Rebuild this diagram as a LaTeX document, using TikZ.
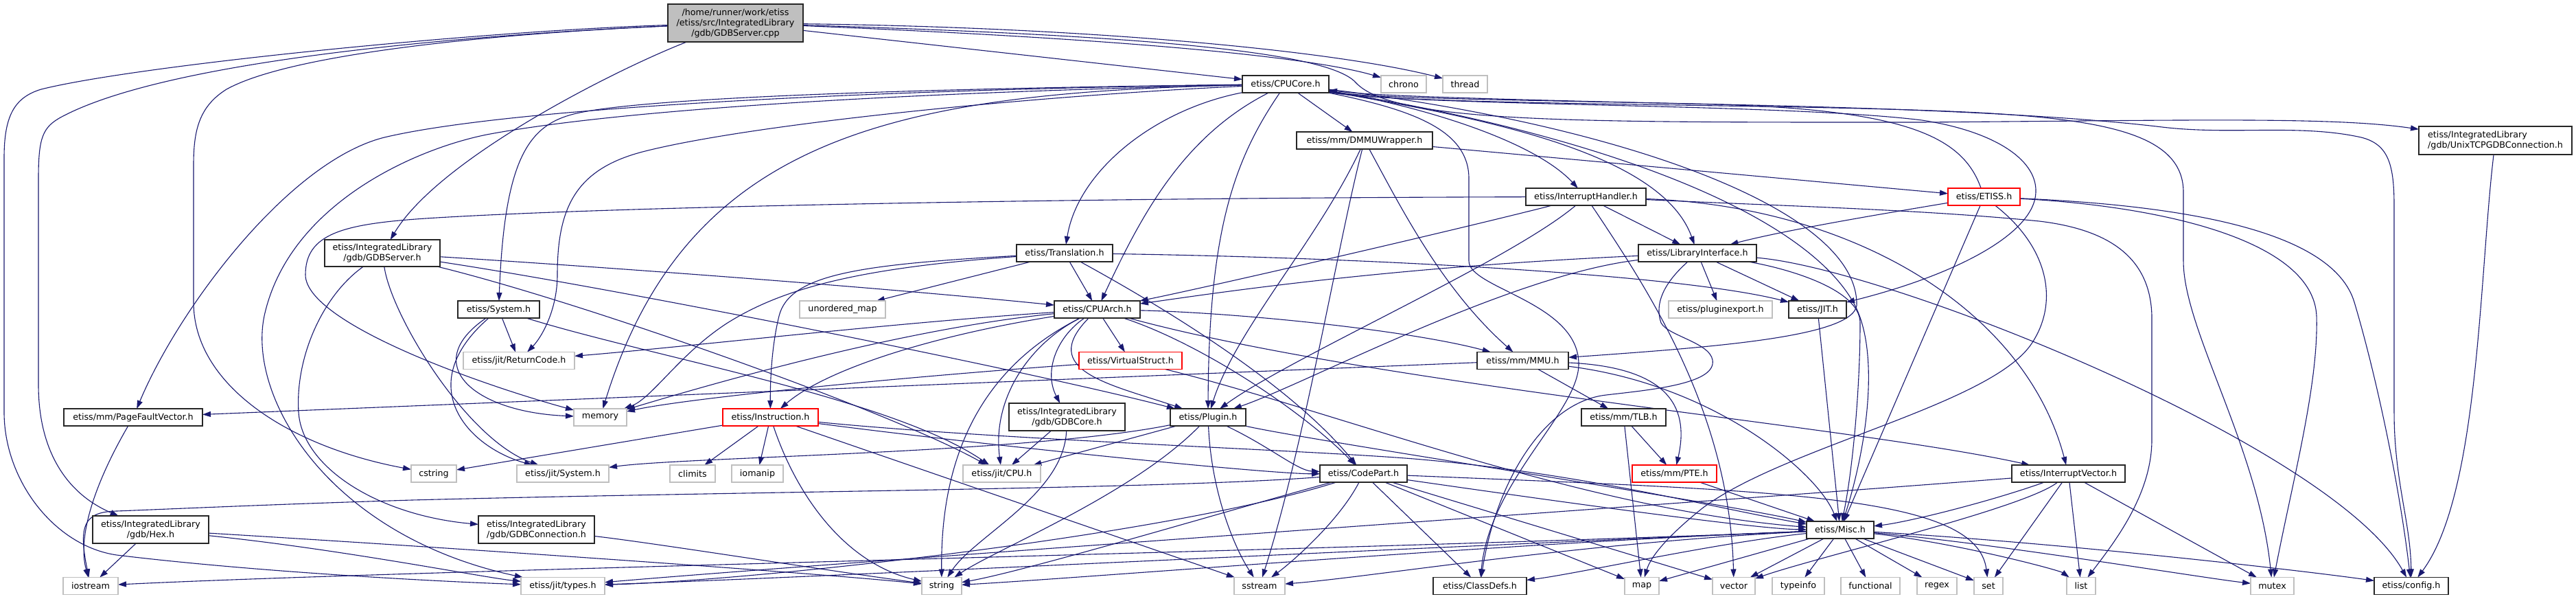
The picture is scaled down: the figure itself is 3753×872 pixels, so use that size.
\documentclass[tikz,border=0pt]{standalone}
\usepackage{fontspec}
\setmainfont{DejaVu Sans}
\usetikzlibrary{arrows.meta,backgrounds}
\definecolor{eblue}{HTML}{191970}
\definecolor{ngray}{HTML}{BFBFBF}
\definecolor{nred}{HTML}{FF0000}
\newcommand\ND[7]{\node[#1,minimum width=#5pt,minimum height=#6pt] (#2) at (#3,#4) {#7};}
\begin{document}
\begin{tikzpicture}[x=1pt,y=-1pt,
  nb/.style={draw=black!85,line width=1.4pt,fill=white,inner sep=0pt,outer sep=0pt,align=center,font=\fontsize{12.7}{15}\selectfont},
  ng/.style={nb,draw=ngray},
  nr/.style={nb,draw=nred},
  nroot/.style={nb,fill=ngray},
  nbl/.style={nb,align=left},
  dep/.style={draw=eblue,line width=1.1pt,-{Triangle[length=12pt,width=8pt]}}]
\useasboundingbox (0,0) rectangle (3753,872);
% nodes
\ND{nroot}{root}{1071.5}{33.5}{197}{55}{/home/runner/work/etiss\\/etiss/src/IntegratedLibrary\\/gdb/GDBServer.cpp}
\ND{nb}{cpucore}{1873}{122.5}{126}{25}{etiss/CPUCore.h}
\ND{ng}{schrono}{2045}{122.5}{66}{25}{chrono}
\ND{ng}{sthread}{2134.5}{122.5}{65}{25}{thread}
\ND{nb}{dmmu}{1988}{204.5}{198}{25}{etiss/mm/DMMUWrapper.h}
\ND{nbl}{unixtcp}{3635.5}{204.5}{223}{41}{etiss/IntegratedLibrary\\/gdb/UnixTCPGDBConnection.h}
\ND{nb}{ih}{2310.5}{286.5}{175}{25}{etiss/InterruptHandler.h}
\ND{nr}{etissh}{2890.5}{286.5}{105}{25}{etiss/ETISS.h}
\ND{nb}{gdbsh}{557}{368.5}{168}{39}{etiss/IntegratedLibrary\\/gdb/GDBServer.h}
\ND{nb}{transl}{1551}{368.5}{140}{25}{etiss/Translation.h}
\ND{nb}{libif}{2473}{368.5}{172}{25}{etiss/LibraryInterface.h}
\ND{nb}{sysh}{726.5}{450.5}{119}{25}{etiss/System.h}
\ND{ng}{sumap}{1227.5}{450.5}{125}{25}{unordered\_map}
\ND{nb}{cpuarch}{1598.5}{450.5}{125}{25}{etiss/CPUArch.h}
\ND{ng}{plugexp}{2506.5}{450.5}{151}{25}{etiss/pluginexport.h}
\ND{nb}{jith}{2648}{450.5}{84}{25}{etiss/JIT.h}
\ND{ng}{retcode}{756}{525}{162}{25}{etiss/jit/ReturnCode.h}
\ND{nr}{vstruct}{1647}{525}{150}{25}{etiss/VirtualStruct.h}
\ND{nb}{mmu}{2218.5}{525}{133}{25}{etiss/mm/MMU.h}
\ND{nb}{pfv}{194}{607.5}{202}{25}{etiss/mm/PageFaultVector.h}
\ND{ng}{smemory}{874.5}{607.5}{77}{25}{memory}
\ND{nr}{instr}{1122.5}{607.5}{139}{25}{etiss/Instruction.h}
\ND{nb}{gdbcore}{1554.5}{607}{169}{40}{etiss/IntegratedLibrary\\/gdb/GDBCore.h}
\ND{nb}{plugin}{1760}{607.5}{110}{25}{etiss/Plugin.h}
\ND{nb}{tlb}{2365.5}{607.5}{123}{25}{etiss/mm/TLB.h}
\ND{ng}{scstring}{632}{689.5}{66}{25}{cstring}
\ND{ng}{jsys}{820}{689.5}{134}{25}{etiss/jit/System.h}
\ND{ng}{sclimits}{1009}{689.5}{66}{25}{climits}
\ND{ng}{siomanip}{1103.5}{689.5}{75}{25}{iomanip}
\ND{ng}{jcpu}{1459.5}{689.5}{113}{25}{etiss/jit/CPU.h}
\ND{nb}{codepart}{1986.5}{689.5}{127}{25}{etiss/CodePart.h}
\ND{nr}{pte}{2439.5}{689.5}{123}{25}{etiss/mm/PTE.h}
\ND{nb}{ivec}{3013.5}{689.5}{165}{25}{etiss/InterruptVector.h}
\ND{nb}{hexh}{219.5}{771}{169}{40}{etiss/IntegratedLibrary\\/gdb/Hex.h}
\ND{nb}{gdbconn}{781.5}{771}{169}{40}{etiss/IntegratedLibrary\\/gdb/GDBConnection.h}
\ND{nb}{misc}{2681}{771.5}{98}{25}{etiss/Misc.h}
\ND{ng}{siostream}{132}{853}{80}{25}{iostream}
\ND{ng}{jtypes}{820}{853}{122}{25}{etiss/jit/types.h}
\ND{ng}{sstring}{1372}{853}{58}{25}{string}
\ND{ng}{ssstream}{1835}{853}{74}{25}{sstream}
\ND{nb}{classdefs}{2156}{853}{136}{25}{etiss/ClassDefs.h}
\ND{ng}{smap}{2392}{853}{50}{25}{map}
\ND{ng}{svector}{2526}{853}{62}{25}{vector}
\ND{ng}{stypeinfo}{2620}{853}{76}{25}{typeinfo}
\ND{ng}{sfunctional}{2725}{853}{86}{25}{functional}
\ND{ng}{sregex}{2822}{853}{58}{25}{regex}
\ND{ng}{sset}{2897}{853}{42}{25}{set}
\ND{ng}{slist}{3032}{853}{42}{25}{list}
\ND{ng}{smutex}{3310.5}{853}{63}{25}{mutex}
\ND{nb}{config}{3513}{853}{108}{25}{etiss/config.h}
\begin{pgfonlayer}{background}
\fill[white] (0,0) rectangle (3753,872);
% root
\draw[dep] (root) -- (cpucore);
\draw[dep] (root) .. controls (1600,55) and (1900,80) .. (schrono);
\draw[dep] (root) .. controls (1600,40) and (1950,75) .. (sthread);
\draw[dep] (root) .. controls (1600,50) and (1930,70) .. (1975,120) .. controls (2030,180) and (2300,178) .. (2800,178) .. controls (3200,175) and (3400,170) .. (unixtcp);
\draw[dep] (root) .. controls (900,100) and (640,230) .. (gdbsh);
\draw[dep] (root) .. controls (700,50) and (250,85) .. (90,170) .. controls (62,185) and (56,200) .. (56,260) -- (56,560) .. controls (56,660) and (100,720) .. (hexh);
\draw[dep] (root) .. controls (700,45) and (200,95) .. (60,130) .. controls (20,142) and (6,170) .. (6,230) -- (6,600) .. controls (6,700) and (80,795) .. (170,808) .. controls (350,830) and (600,845) .. (jtypes);
\draw[dep] (root) .. controls (700,50) and (420,80) .. (330,130) .. controls (290,155) and (282,190) .. (282,240) -- (282,440) .. controls (282,560) and (420,650) .. (scstring);
% cpucore
\draw[dep] (cpucore) -- (dmmu);
\draw[dep] (cpucore) .. controls (1680,160) and (1570,250) .. (transl);
\draw[dep] (cpucore) .. controls (1720,200) and (1660,320) .. (cpuarch);
\draw[dep] (cpucore) .. controls (1800,230) and (1761,330) .. (plugin);
\draw[dep] (cpucore) .. controls (1400,128) and (950,140) .. (840,165) .. controls (770,181) and (735,230) .. (sysh);
\draw[dep] (cpucore) .. controls (1500,140) and (1100,180) .. (940,220) .. controls (840,245) and (812,300) .. (812,400) .. controls (812,450) and (790,490) .. (retcode);
\draw[dep] (cpucore) .. controls (1300,130) and (750,155) .. (560,200) .. controls (420,235) and (260,450) .. (pfv);
\draw[dep] (cpucore) .. controls (1300,135) and (1000,200) .. (smemory);
\draw[dep] (cpucore) .. controls (1300,135) and (900,160) .. (709,196) .. controls (600,218) and (420,300) .. (385,460) .. controls (360,580) and (480,780) .. (jtypes);
\draw[dep] (cpucore) .. controls (2050,150) and (2230,200) .. (ih);
\draw[dep] (cpucore) .. controls (2150,170) and (2420,220) .. (libif);
\draw[dep] (cpucore) .. controls (2300,190) and (2620,300) .. (2700,440) .. controls (2740,510) and (2720,650) .. (misc);
\draw[dep] (cpucore) .. controls (2350,180) and (2700,300) .. (2705,440) .. controls (2712,490) and (2500,505) .. (mmu);
\draw[dep] (cpucore) .. controls (2060,160) and (2140,190) .. (2140,260) -- (2140,380) .. controls (2140,420) and (2300,440) .. (2300,530) .. controls (2300,600) and (2170,700) .. (classdefs);
\draw[dep] (cpucore) .. controls (2050,155) and (2600,150) .. (2800,175) .. controls (2900,190) and (2968,230) .. (2966,280) .. controls (2964,340) and (2850,400) .. (jith);
\draw[dep] (cpucore) .. controls (2050,155) and (2650,150) .. (2900,165) .. controls (3080,176) and (3181,200) .. (3181,280) -- (3181,380) .. controls (3181,480) and (3290,650) .. (smutex);
\draw[dep] (cpucore) .. controls (2050,153) and (2800,143) .. (3150,185) .. controls (3250,197) and (3350,180) .. (3440,200) .. controls (3480,210) and (3488,240) .. (3488,300) -- (3488,600) .. controls (3488,700) and (3512,760) .. (config);
\draw[dep] (etissh) .. controls (2860,200) and (2780,160) .. (2500,152) .. controls (2200,145) and (2000,140) .. (cpucore);
% translation
\draw[dep] (transl) -- (sumap);
\draw[dep] (transl) -- (cpuarch);
\draw[dep] (transl) .. controls (1700,450) and (1880,560) .. (codepart);
\draw[dep] (transl) .. controls (2000,375) and (2450,400) .. (jith);
\draw[dep] (transl) .. controls (1250,385) and (1150,400) .. (1135,460) .. controls (1125,500) and (1122,550) .. (instr);
\draw[dep] (transl) .. controls (1250,390) and (1140,420) .. (1060,470) .. controls (990,515) and (950,580) .. (smemory);
% cpuarch
\draw[dep] (cpuarch) -- (vstruct);
\draw[dep] (cpuarch) .. controls (1540,490) and (1520,540) .. (gdbcore);
\draw[dep] (cpuarch) .. controls (1500,500) and (1445,580) .. (jcpu);
\draw[dep] (cpuarch) .. controls (1440,530) and (1370,650) .. (sstring);
\draw[dep] (cpuarch) .. controls (1350,490) and (1200,540) .. (instr);
\draw[dep] (cpuarch) .. controls (1510,540) and (1620,560) .. (plugin);
\draw[dep] (cpuarch) .. controls (1750,500) and (1900,600) .. (codepart);
\draw[dep] (cpuarch) .. controls (1800,455) and (2050,480) .. (mmu);
\draw[dep] (cpuarch) .. controls (2000,560) and (2700,620) .. (ivec);
\draw[dep] (cpuarch) .. controls (1300,470) and (1000,505) .. (retcode);
\draw[dep] (cpuarch) .. controls (1300,480) and (1000,570) .. (smemory);
% virtualstruct
\draw[dep] (vstruct) .. controls (1300,550) and (1000,580) .. (smemory);
\draw[dep] (vstruct) .. controls (1950,600) and (2300,740) .. (misc);
% instruction
\draw[dep] (instr) -- (sclimits);
\draw[dep] (instr) -- (siomanip);
\draw[dep] (instr) .. controls (1160,720) and (1230,820) .. (sstring);
\draw[dep] (instr) -- (ssstream);
\draw[dep] (instr) -- (scstring);
\draw[dep] (instr) .. controls (1450,640) and (1900,655) .. (2060,668) .. controls (2300,688) and (2500,740) .. (misc);
\draw[dep] (instr) .. controls (1450,650) and (1850,690) .. (codepart);
% gdbcore
\draw[dep] (gdbcore) -- (jcpu);
\draw[dep] (gdbcore) .. controls (1550,720) and (1420,780) .. (sstring);
% plugin
\draw[dep] (plugin) -- (jcpu);
\draw[dep] (plugin) .. controls (1650,720) and (1450,800) .. (sstring);
\draw[dep] (plugin) .. controls (1765,720) and (1800,800) .. (ssstream);
\draw[dep] (plugin) .. controls (1500,660) and (1000,665) .. (jsys);
\draw[dep] (plugin) .. controls (1850,650) and (1890,685) .. (codepart);
\draw[dep] (plugin) .. controls (1900,640) and (2500,730) .. (misc);
% codepart
\draw[dep] (codepart) .. controls (2200,720) and (2550,770) .. (misc);
\draw[dep] (codepart) -- (smap);
\draw[dep] (codepart) -- (svector);
\draw[dep] (codepart) -- (classdefs);
\draw[dep] (codepart) .. controls (1800,740) and (1500,830) .. (sstring);
\draw[dep] (codepart) .. controls (1700,780) and (1100,845) .. (jtypes);
\draw[dep] (codepart) .. controls (2600,715) and (2880,720) .. (sset);
\draw[dep] (codepart) .. controls (1950,760) and (1880,820) .. (ssstream);
\draw[dep] (codepart) .. controls (1700,712) and (1100,715) .. (600,728) .. controls (400,734) and (250,741) .. (170,744) .. controls (122,745) and (114,765) .. (siostream);
% mmu
\draw[dep] (mmu) -- (tlb);
\draw[dep] (mmu) .. controls (2440,535) and (2460,600) .. (pte);
\draw[dep] (mmu) -- (pfv);
\draw[dep] (mmu) .. controls (2500,560) and (2650,690) .. (misc);
% tlb, pte
\draw[dep] (tlb) -- (smap);
\draw[dep] (tlb) -- (pte);
\draw[dep] (pte) -- (misc);
% dmmu
\draw[dep] (dmmu) -- (etissh);
\draw[dep] (dmmu) .. controls (2040,300) and (2100,420) .. (mmu);
\draw[dep] (dmmu) .. controls (1920,350) and (1800,480) .. (plugin);
\draw[dep] (dmmu) .. controls (1950,350) and (1900,650) .. (ssstream);
% interrupt handler
\draw[dep] (ih) -- (libif);
\draw[dep] (ih) .. controls (2100,340) and (1750,420) .. (cpuarch);
\draw[dep] (ih) .. controls (2200,380) and (1880,520) .. (plugin);
\draw[dep] (ih) .. controls (2400,420) and (2520,600) .. (svector);
\draw[dep] (ih) .. controls (2700,300) and (2950,450) .. (ivec);
\draw[dep] (ih) .. controls (2600,300) and (2800,305) .. (2971,322) .. controls (3080,335) and (3133,380) .. (3135,460) -- (3135,640) .. controls (3135,720) and (3080,790) .. (slist);
\draw[dep] (ih) .. controls (1600,288) and (900,300) .. (620,318) .. controls (500,326) and (445,340) .. (445,400) .. controls (445,470) and (700,560) .. (smemory);
% library interface
\draw[dep] (libif) -- (plugexp);
\draw[dep] (libif) -- (jith);
\draw[dep] (libif) .. controls (2000,390) and (1750,430) .. (cpuarch);
\draw[dep] (libif) .. controls (2200,400) and (1900,560) .. (plugin);
\draw[dep] (libif) .. controls (2415,420) and (2413,450) .. (2420,470) .. controls (2430,490) and (2500,500) .. (2495,530) .. controls (2490,560) and (2400,568) .. (2340,575) .. controls (2250,585) and (2180,700) .. (classdefs);
\draw[dep] (libif) .. controls (2600,390) and (2710,420) .. (2710,470) .. controls (2710,560) and (2700,680) .. (misc);
\draw[dep] (libif) .. controls (2750,390) and (3400,650) .. (config);
% jit
\draw[dep] (jith) -- (misc);
% etiss
\draw[dep] (etissh) .. controls (2750,310) and (2600,335) .. (libif);
\draw[dep] (etissh) -- (misc);
\draw[dep] (etissh) .. controls (2985,360) and (3000,440) .. (2960,500) .. controls (2900,590) and (2600,650) .. (2480,740) .. controls (2430,780) and (2405,810) .. (smap);
\draw[dep] (etissh) .. controls (3150,300) and (3370,350) .. (3375,460) .. controls (3378,560) and (3340,700) .. (smutex);
\draw[dep] (etissh) .. controls (3200,300) and (3400,340) .. (3430,440) .. controls (3460,540) and (3495,700) .. (config);
% interrupt vector
\draw[dep] (ivec) .. controls (2500,730) and (1200,820) .. (jtypes);
\draw[dep] (ivec) .. controls (2900,730) and (2780,760) .. (misc);
\draw[dep] (ivec) .. controls (2950,740) and (2650,810) .. (svector);
\draw[dep] (ivec) -- (sset);
\draw[dep] (ivec) -- (slist);
\draw[dep] (ivec) -- (smutex);
% unix tcp
\draw[dep] (unixtcp) .. controls (3612,400) and (3612,720) .. (config);
% gdbserver.h
\draw[dep] (gdbsh) .. controls (900,390) and (1300,420) .. (cpuarch);
\draw[dep] (gdbsh) .. controls (900,420) and (1500,540) .. (plugin);
\draw[dep] (gdbsh) .. controls (850,440) and (1300,600) .. (jcpu);
\draw[dep] (gdbsh) .. controls (470,430) and (430,520) .. (435,600) .. controls (440,680) and (550,750) .. (gdbconn);
\draw[dep] (gdbsh) .. controls (570,460) and (680,640) .. (jsys);
% system.h
\draw[dep] (sysh) -- (retcode);
\draw[dep] (sysh) .. controls (610,530) and (690,600) .. (smemory);
\draw[dep] (sysh) .. controls (600,560) and (680,650) .. (jsys);
\draw[dep] (sysh) .. controls (950,520) and (1300,580) .. (jcpu);
% hex, gdbconnection, pagefault
\draw[dep] (hexh) -- (siostream);
\draw[dep] (hexh) .. controls (500,800) and (700,840) .. (jtypes);
\draw[dep] (hexh) .. controls (700,800) and (1200,835) .. (sstring);
\draw[dep] (gdbconn) .. controls (950,790) and (1200,830) .. (sstring);
\draw[dep] (pfv) .. controls (140,700) and (112,780) .. (siostream);
% misc
\draw[dep] (misc) .. controls (2000,800) and (600,830) .. (siostream);
\draw[dep] (misc) .. controls (2000,800) and (1200,840) .. (jtypes);
\draw[dep] (misc) .. controls (2200,790) and (1600,840) .. (sstring);
\draw[dep] (misc) .. controls (2300,790) and (2000,840) .. (ssstream);
\draw[dep] (misc) .. controls (2500,790) and (2300,835) .. (classdefs);
\draw[dep] (misc) -- (smap);
\draw[dep] (misc) -- (svector);
\draw[dep] (misc) -- (stypeinfo);
\draw[dep] (misc) -- (sfunctional);
\draw[dep] (misc) -- (sregex);
\draw[dep] (misc) -- (sset);
\draw[dep] (misc) .. controls (2850,790) and (3000,830) .. (slist);
\draw[dep] (misc) .. controls (2900,790) and (3200,840) .. (smutex);
\draw[dep] (misc) .. controls (3000,790) and (3350,830) .. (config);
\end{pgfonlayer}
\end{tikzpicture}
\end{document}
